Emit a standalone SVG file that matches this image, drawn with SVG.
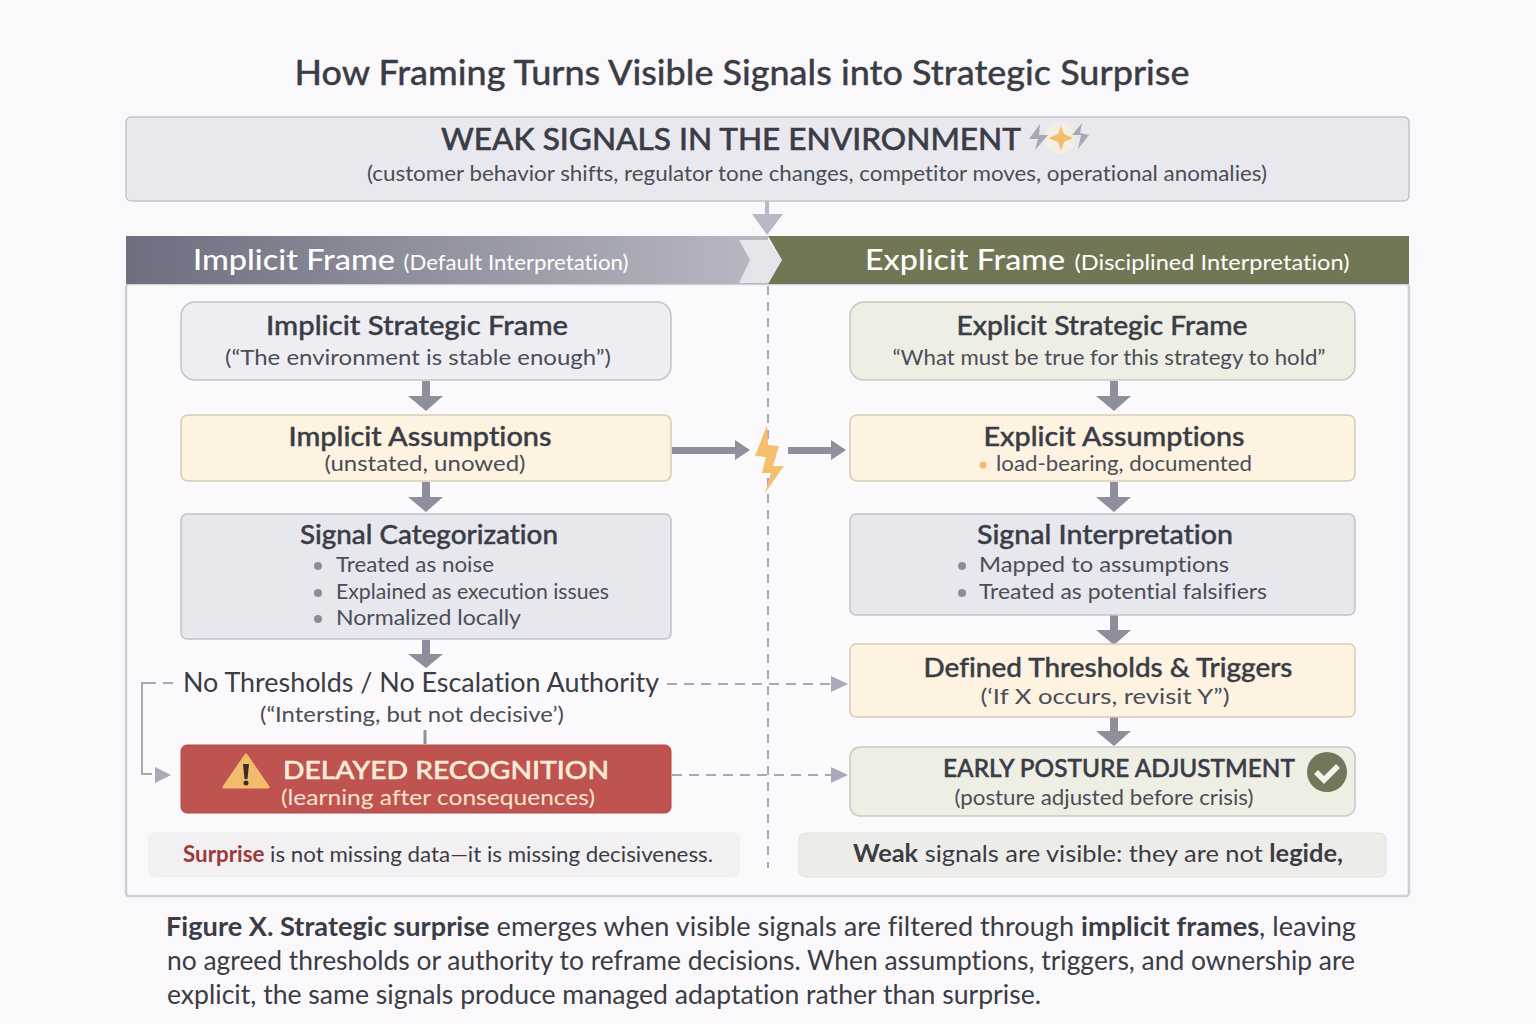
<svg xmlns="http://www.w3.org/2000/svg" width="1536" height="1024" viewBox="0 0 1536 1024">
<style>
text{font-family:"Lato","Open Sans","Liberation Sans",sans-serif;fill:#3a3c46;text-anchor:middle;font-variant-ligatures:none}
.h{font-size:26px;font-weight:500;stroke:#3a3c46;stroke-width:.4}
.s{font-size:22px;fill:#4b4d57}
.l{text-anchor:start}
.box{stroke-width:1.5}
.gray{fill:#e7e7ee;stroke:#c2c2cd}
.olive{fill:#eeeee4;stroke:#c9c9c4}
.cream{fill:#fdf3e0;stroke:#d8ccb8}
.dash{fill:none;stroke:#a9a9b5;stroke-width:2;stroke-dasharray:10 7}
.dot{fill:#8d8d99}
.w{fill:#fff}
</style>
<defs>
<linearGradient id="hg" x1="0" x2="1" y1="0" y2="0"><stop offset="0" stop-color="#6d6e7e"/><stop offset="1" stop-color="#b9b9c4"/></linearGradient>
</defs>
<rect width="1536" height="1024" fill="#fbf8fb"/>
<text id="title" x="742" y="85" font-size="34" font-weight="500" stroke="#3a3c46" stroke-width=".3" textLength="895" lengthAdjust="spacingAndGlyphs">How Framing Turns Visible Signals into Strategic Surprise</text>

<g id="frame"><rect x="126" y="284" width="1283" height="612" rx="3" fill="#fbf9fb" stroke="#cfcfd9" stroke-width="2.500"/></g>

<g id="weak-signals">
<rect x="126" y="117" width="1283" height="84" rx="5" fill="#e8e8ee" stroke="#c4c4ce" stroke-width="1.500"/>
<text x="731" y="150" font-size="30" font-weight="500" stroke="#3a3c46" stroke-width=".5" textLength="580" lengthAdjust="spacingAndGlyphs">WEAK SIGNALS IN THE ENVIRONMENT</text>
<text x="817" y="181" class="s" textLength="900" lengthAdjust="spacingAndGlyphs">(customer behavior shifts, regulator tone changes, competitor moves, operational anomalies)</text>
<ellipse cx="1060" cy="138" rx="16" ry="16" fill="#f2eee2"/>
<path d="M1040 124L1029 139L1038 139L1035 150L1048 135L1039 135Z" fill="#a8a8b4"/>
<path d="M1061 126L1064 134L1073 138L1064 142L1061 151L1058 142L1049 138L1058 134Z" fill="#f3bd6c"/>
<path d="M1082 123L1072 135L1081 135L1078 149L1089 135L1080 133Z" fill="#a8a8b4"/>
</g>

<g id="implicit-header">
<rect x="126" y="236" width="642" height="48" fill="url(#hg)"/>
<path d="M739 240H768L782 260L768 283H739L750 260Z" fill="#e4e4ea"/>
<text x="294" y="270" font-size="29" font-weight="500" class="w" textLength="202" lengthAdjust="spacingAndGlyphs">Implicit Frame</text>
<text x="516" y="270" font-size="22" class="w" textLength="225" lengthAdjust="spacingAndGlyphs">(Default Interpretation)</text>
</g>
<g id="explicit-header">
<path d="M768 236H1409V284H768L782 260Z" fill="#727655"/>
<text x="965" y="270" font-size="29" font-weight="500" class="w" textLength="200" lengthAdjust="spacingAndGlyphs">Explicit Frame</text>
<text x="1212" y="270" font-size="22" class="w" textLength="275" lengthAdjust="spacingAndGlyphs">(Disciplined Interpretation)</text>
</g>

<g id="connectors">
<path d="M768 286V868" class="dash" style="stroke-dasharray:9 7"/>
<path d="M767 201V215" stroke="#b9b9c6" stroke-width="4" fill="none"/><path d="M752 214H783L767 235Z" fill="#b9b9c6"/>
<g fill="#8e8e9c">
<path d="M422 381H430V396H443L426 411L408 396H422Z"/>
<path d="M422 482H430V497H443L426 512L408 497H422Z"/>
<path d="M422 640H430V654H443L426 668L408 654H422Z"/>
<path d="M1110 381H1118V396H1131L1114 411L1096 396H1110Z"/>
<path d="M1110 482H1118V497H1131L1114 512L1096 497H1110Z"/>
<path d="M1110 615H1118V630H1131L1114 645L1096 630H1110Z"/>
<path d="M1110 717H1118V731H1131L1114 746L1096 731H1110Z"/>
<path d="M672 447H735V440L750 450L735 460V454H672Z"/>
<path d="M788 447H831V440L846 450L831 460V454H788Z"/>
</g>
<path d="M425 730V744" stroke="#8e8e9c" stroke-width="3" fill="none"/>
<path d="M667 684H832" class="dash"/><path d="M831 676L848 684L831 692Z" fill="#a9a9b8"/>
<path d="M672 775H832" class="dash"/><path d="M831 767L848 775L831 783Z" fill="#a9a9b8"/>
<path d="M173 683H146" class="dash"/>
<path d="M147 683H142V774H152" fill="none" stroke="#a9a9b5" stroke-width="2"/>
<path d="M155 767L171 775L155 783Z" fill="#a9a9b8"/>
<path d="M767 425L755 456L766 457L762 473L771 473L765 493L784 466L773 466L779 446L768 445Z" fill="#f4bf6e"/>
</g>

<g id="implicit-strategic-frame">
<rect x="181" y="302" width="490" height="78" rx="14" class="box gray" style="fill:#eeeef2"/>
<text x="417" y="335" class="h" textLength="302" lengthAdjust="spacingAndGlyphs">Implicit Strategic Frame</text>
<text x="418" y="365" class="s" textLength="386" lengthAdjust="spacingAndGlyphs">(“The environment is stable enough”)</text>
</g>
<g id="implicit-assumptions">
<rect x="181" y="415" width="490" height="66" rx="7" class="box cream"/>
<text x="420" y="446" class="h" textLength="263" lengthAdjust="spacingAndGlyphs">Implicit Assumptions</text>
<text x="425" y="471" class="s" textLength="201" lengthAdjust="spacingAndGlyphs">(unstated, unowed)</text>
</g>
<g id="signal-categorization">
<rect x="181" y="514" width="490" height="125" rx="6" class="box gray"/>
<text x="429" y="544" class="h" textLength="258" lengthAdjust="spacingAndGlyphs">Signal Categorization</text>
<circle cx="318" cy="566" r="4" class="dot"/><text x="336" y="572" class="s l" textLength="158" lengthAdjust="spacingAndGlyphs">Treated as noise</text>
<circle cx="318" cy="593" r="4" class="dot"/><text x="336" y="599" class="s l" textLength="273" lengthAdjust="spacingAndGlyphs">Explained as execution issues</text>
<circle cx="318" cy="619" r="4" class="dot"/><text x="336" y="625" class="s l" textLength="185" lengthAdjust="spacingAndGlyphs">Normalized locally</text>
</g>
<g id="no-thresholds">
<text x="421" y="692" font-size="26" textLength="476" lengthAdjust="spacingAndGlyphs">No Thresholds / No Escalation Authority</text>
<text x="412" y="722" class="s" textLength="304" lengthAdjust="spacingAndGlyphs">(“Intersting, but not decisive’)</text>
</g>
<g id="delayed-recognition">
<rect x="181" y="745" width="490" height="68" rx="6" fill="#bf5350" stroke="#b04a48"/>
<path d="M246 755L268 787H224Z" fill="#f3bb6c" stroke="#f3bb6c" stroke-width="3" stroke-linejoin="round"/>
<path d="M243 764H249L247.500 779H244.500Z" fill="#3a2c28"/><circle cx="246" cy="783" r="2.500" fill="#3a2c28"/>
<text x="446" y="779" font-size="25" font-weight="500" stroke="#f8ecd8" stroke-width=".5" style="fill:#f8ecd8" textLength="326" lengthAdjust="spacingAndGlyphs">DELAYED RECOGNITION</text>
<text x="438" y="805" font-size="21" style="fill:#f8e4d0" textLength="314" lengthAdjust="spacingAndGlyphs">(learning after consequences)</text>
</g>
<g id="surprise-note">
<rect x="148" y="832" width="592" height="45" rx="6" fill="#f2f0f2"/>
<text x="448" y="862" font-size="22" textLength="530" lengthAdjust="spacingAndGlyphs"><tspan font-weight="700" style="fill:#9c3a38">Surprise</tspan> is not missing data—it is missing decisiveness.</text>
</g>

<g id="explicit-strategic-frame">
<rect x="850" y="302" width="505" height="78" rx="14" class="box olive"/>
<text x="1102" y="335" class="h" textLength="291" lengthAdjust="spacingAndGlyphs">Explicit Strategic Frame</text>
<text x="1109" y="365" class="s" textLength="433" lengthAdjust="spacingAndGlyphs">“What must be true for this strategy to hold”</text>
</g>
<g id="explicit-assumptions">
<rect x="850" y="415" width="505" height="66" rx="7" class="box cream"/>
<text x="1114" y="446" class="h" textLength="261" lengthAdjust="spacingAndGlyphs">Explicit Assumptions</text>
<circle cx="983" cy="465" r="3.500" fill="#f3bb6c"/>
<text x="996" y="471" class="s l" textLength="256" lengthAdjust="spacingAndGlyphs">load-bearing, documented</text>
</g>
<g id="signal-interpretation">
<rect x="850" y="514" width="505" height="101" rx="6" class="box gray"/>
<text x="1105" y="544" class="h" textLength="256" lengthAdjust="spacingAndGlyphs">Signal Interpretation</text>
<circle cx="962" cy="566" r="4" class="dot"/><text x="979" y="572" class="s l" textLength="250" lengthAdjust="spacingAndGlyphs">Mapped to assumptions</text>
<circle cx="962" cy="593" r="4" class="dot"/><text x="979" y="599" class="s l" textLength="288" lengthAdjust="spacingAndGlyphs">Treated as potential falsifiers</text>
</g>
<g id="thresholds-triggers">
<rect x="850" y="644" width="505" height="73" rx="6" class="box cream"/>
<text x="1108" y="677" class="h" textLength="369" lengthAdjust="spacingAndGlyphs">Defined Thresholds &amp; Triggers</text>
<text x="1105" y="704" class="s" textLength="249" lengthAdjust="spacingAndGlyphs">(‘If X occurs, revisit Y”)</text>
</g>
<g id="early-posture">
<rect x="850" y="747" width="505" height="69" rx="10" class="box olive"/>
<text x="1119" y="777" font-size="24" font-weight="500" stroke="#3a3c46" stroke-width=".5" textLength="352" lengthAdjust="spacingAndGlyphs">EARLY POSTURE ADJUSTMENT</text>
<text x="1104" y="805" class="s" textLength="299" lengthAdjust="spacingAndGlyphs">(posture adjusted before crisis)</text>
<circle cx="1327" cy="772" r="20" fill="#72765a"/>
<path d="M1316 772L1324 780L1338 766" fill="none" stroke="#f5f3ea" stroke-width="5.500"/>
</g>
<g id="weak-note">
<rect x="799" y="833" width="587" height="44" rx="6" fill="#eeece8" stroke="#e2e0de"/>
<text x="1098" y="862" font-size="24" textLength="490" lengthAdjust="spacingAndGlyphs"><tspan font-weight="700">Weak</tspan> signals are visible: they are not <tspan font-weight="700">legide,</tspan></text>
</g>

<g id="caption">
<text x="166" y="936" class="l" font-size="26" textLength="1190" lengthAdjust="spacingAndGlyphs"><tspan font-weight="700">Figure X. Strategic surprise</tspan> emerges when visible signals are filtered through <tspan font-weight="700">implicit frames</tspan>, leaving</text>
<text x="167" y="970" class="l" font-size="26" textLength="1188" lengthAdjust="spacingAndGlyphs">no agreed thresholds or authority to reframe decisions. When assumptions, triggers, and ownership are</text>
<text x="167" y="1004" class="l" font-size="26" textLength="874" lengthAdjust="spacingAndGlyphs">explicit, the same signals produce managed adaptation rather than surprise.</text>
</g>
</svg>
